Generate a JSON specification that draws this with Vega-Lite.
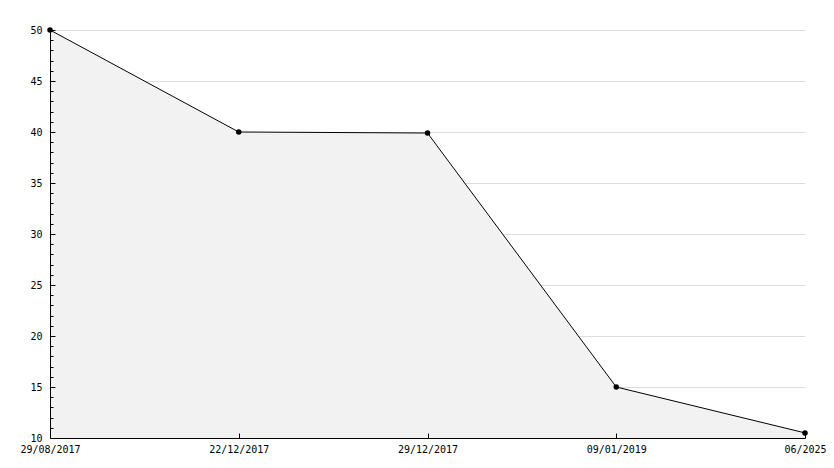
{
  "$schema": "https://vega.github.io/schema/vega-lite/v6.json",
  "autosize": {"type": "none"},
  "padding": {"left": 50, "top": 30, "right": 29, "bottom": 30},
  "width": 755,
  "height": 408,
  "background": "white",
  "config": {
    "view": {"stroke": null},
    "axis": {"labelFont": "DejaVu Sans Mono", "labelFontSize": 10, "labelColor": "#000000", "domainColor": "#000000", "tickColor": "#000000", "gridColor": "#dddddd"}
  },
  "data": {
    "values": [
      {"date": "29/08/2017", "value": 50},
      {"date": "22/12/2017", "value": 40},
      {"date": "29/12/2017", "value": 39.9},
      {"date": "09/01/2019", "value": 15},
      {"date": "06/2025", "value": 10.5}
    ]
  },
  "encoding": {
    "x": {"field": "date", "type": "ordinal", "sort": null, "scale": {"type": "point", "padding": 0},
      "axis": {"title": null, "labelAngle": 0, "tickSize": -5, "labelPadding": 11, "grid": false, "domainWidth": 1, "labelOverlap": false, "zindex": 1}},
    "y": {"field": "value", "type": "quantitative", "scale": {"domain": [10, 50], "nice": false, "zero": false}, "axis": null}
  },
  "layer": [
    {
      "mark": {"type": "area", "color": "#f2f2f2", "clip": true},
      "encoding": {
        "y": {"field": "value", "type": "quantitative", "scale": {"domain": [10, 50], "nice": false, "zero": false},
          "axis": {"title": null, "values": [10, 15, 20, 25, 30, 35, 40, 45, 50], "ticks": false, "labelPadding": 8, "grid": true, "domain": false, "orient": "left", "zindex": 0}}
      }
    },
    {
      "mark": {"type": "line", "color": "#000000", "strokeWidth": 1},
      "encoding": {
        "y": {"field": "value", "type": "quantitative",
          "axis": {"title": null, "values": [11,12,13,14,16,17,18,19,21,22,23,24,26,27,28,29,31,32,33,34,36,37,38,39,41,42,43,44,46,47,48,49], "labels": false, "tickSize": -3, "grid": false, "domain": false, "orient": "left", "zindex": 1}}
      }
    },
    {
      "mark": {"type": "point", "filled": true, "color": "#000000", "shape": "circle", "size": 30, "opacity": 1},
      "encoding": {
        "y": {"field": "value", "type": "quantitative",
          "axis": {"title": null, "values": [10, 15, 20, 25, 30, 35, 40, 45, 50], "labels": false, "tickSize": -5, "grid": false, "domain": true, "domainWidth": 1, "orient": "left", "zindex": 1}}
      }
    }
  ],
  "resolve": {"axis": {"y": "independent"}}
}
